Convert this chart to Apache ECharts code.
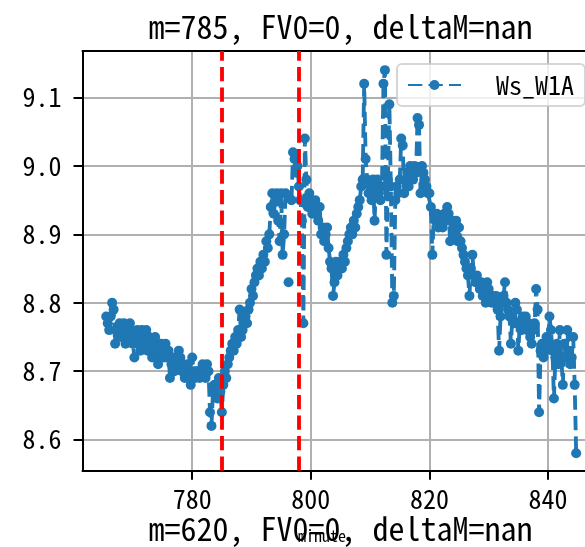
<!DOCTYPE html>
<html><head><meta charset="utf-8">
<script src="https://cdn.jsdelivr.net/npm/echarts@6/dist/echarts.min.js"></script>
<style>html,body{margin:0;padding:0;background:#fff}#c{width:585px;height:547px}</style>
</head><body><div id="c"></div>
<script>
// Titles / labels
const topTitle = 'm=785, FV0=0, deltaM=nan';
const bottomTitle = 'm=620, FV0=0, deltaM=nan';
const xLabelText = 'minute';
const seriesName = 'Ws_W1A';
const xTicks = [780, 800, 820, 840];
const yTicks = [8.6, 8.7, 8.8, 8.9, 9.0, 9.1];
const vLines = [785, 798];
const sampleStep = 0.25; // minutes between samples

// Ws_W1A readings, blocks with their start minute
const wsA_start = 765.5;
const wsA = [
  8.78, 8.77,
  8.76, 8.78, 8.80, 8.79,
  8.74, 8.76, 8.75, 8.77,
  8.75, 8.76, 8.77, 8.74,
  8.76, 8.75, 8.77, 8.76,
  8.74, 8.72, 8.75, 8.76,
  8.74, 8.73, 8.76, 8.75,
  8.74, 8.76, 8.73, 8.75,
  8.74, 8.72, 8.73, 8.75,
  8.73, 8.71, 8.72, 8.74,
  8.73, 8.72, 8.74, 8.72,
  8.73, 8.69, 8.71, 8.72,
  8.70, 8.72, 8.71, 8.73,
  8.72, 8.70, 8.71, 8.69,
  8.70, 8.71, 8.69, 8.68
];
const wsB_start = 780;
const wsB = [
  8.72, 8.70, 8.69, 8.70,
  8.70, 8.69, 8.70, 8.71,
  8.70, 8.69, 8.71, 8.70,
  8.64, 8.62, 8.67, 8.68,
  8.68, 8.66, 8.69, 8.67,
  8.64, 8.68, 8.70, 8.69,
  8.71, 8.72, 8.73, 8.74,
  8.73, 8.75, 8.74, 8.76,
  8.79, 8.75, 8.76, 8.77,
  8.78, 8.77, 8.79, 8.80,
  8.82, 8.81, 8.83, 8.84,
  8.85, 8.84, 8.86, 8.85,
  8.87, 8.86, 8.89, 8.88,
  8.90, 8.94, 8.96, 8.93,
  8.95, 8.96, 8.92, 8.89
];
const wsC_start = 795;
const wsC = [
  8.96, 8.87, 8.90, 8.96,
  null, 8.83, null, 8.95,
  9.02, 9.01, 8.99, 9.00,
  8.97, 8.95, 8.92, 8.77,
  9.04, 8.98, 8.94, 8.96,
  8.95, 8.93, 8.94, 8.95,
  8.93, 8.92, 8.94, 8.90,
  8.91, 8.89, 8.90, 8.91,
  8.88, 8.86, 8.85, 8.81,
  8.83, 8.86, 8.84, 8.85,
  8.86, 8.85, 8.87, 8.86,
  8.88, 8.89, 8.90, 8.91,
  8.90, 8.92, 8.91, 8.93,
  8.94, 8.95, 8.97, 8.98,
  9.12, 9.01, 8.98, 8.96
];
const wsD_start = 810;
const wsD = [
  8.97, 8.95, 8.98, 8.92,
  8.97, 8.98, 8.96, 8.95,
  8.97, 9.12, 9.14, 8.87,
  8.98, 9.09, 8.97, 8.80,
  8.81, 8.95, 8.97, 8.96,
  8.98, 9.04, 9.03, 8.96,
  8.98, 8.99, 8.97, 9.00,
  8.99, 8.98, 9.00, 8.99,
  9.07, 9.06, 8.96, 9.00,
  8.99, 8.98, 8.97, 8.96,
  8.96, 8.94, 8.87, 8.93,
  8.92, 8.93, 8.91, 8.92,
  8.92, 8.91, 8.93, 8.92,
  8.94, 8.93, 8.89, 8.92,
  8.91, 8.90, 8.92, 8.89
];
const wsE_start = 825;
const wsE = [
  8.91, 8.89, 8.88, 8.87,
  8.86, 8.85, 8.84, 8.81,
  8.85, 8.87, 8.84, 8.83,
  8.84, 8.83, 8.82, 8.83,
  8.81, 8.82, 8.80, 8.83,
  8.82, 8.81, 8.80, 8.81,
  8.80, 8.81, 8.79, 8.73,
  8.78, 8.80, 8.81, 8.83,
  8.80, 8.79, 8.78, 8.74,
  8.78, 8.77, 8.80, 8.79,
  8.73, 8.77, 8.76, 8.78,
  8.77, 8.78, 8.76, 8.77,
  8.75, 8.74, 8.76, 8.77,
  8.82, 8.79, 8.64, 8.73,
  8.74, 8.72, 8.73, 8.75,
  8.74, 8.78, 8.76, 8.73,
  8.66, 8.72, 8.74, 8.71,
  8.76, 8.72, 8.68, 8.74,
  8.72, 8.76, 8.73, 8.71,
  8.72, 8.75, 8.68, 8.58
];

const blocks = [[wsA_start, wsA], [wsB_start, wsB], [wsC_start, wsC], [wsD_start, wsD], [wsE_start, wsE]];
const seriesData = [];
blocks.forEach(([start, vals]) => {
  vals.forEach((v, i) => seriesData.push([+(start + i * sampleStep).toFixed(2), v]));
});

const FONT = "'Noto Sans Mono CJK SC', 'Noto Sans CJK SC', monospace";
const BLUE = '#1f77b4';
const dash = [14.3, 6.2];
// visible x range: the plot continues past the right edge of the window
const xMin = 761.5, xMax = 846.24;
const yMin = 8.5545, yMax = 9.168;

const chart = echarts.init(document.getElementById('c'), null, {renderer: 'canvas'});
chart.setOption({
  animation: false,
  backgroundColor: '#fff',
  grid: {left: 82.5, top: 51, right: 0, height: 419.7, show: false},
  xAxis: [{
    type: 'value', min: xMin, max: xMax,
    axisLine: {show: true, lineStyle: {color: '#000', width: 2}},
    axisTick: {show: true, inside: false, length: 9, lineStyle: {color: '#000', width: 2}, customValues: xTicks},
    axisLabel: {customValues: xTicks, margin: 15, color: '#000', fontSize: 26, fontFamily: FONT},
    splitLine: {show: true, lineStyle: {color: '#b0b0b0', width: 2}}
  }, {
    type: 'value', position: 'top', min: xMin, max: xMax,
    axisLine: {show: true, onZero: false, lineStyle: {color: '#000', width: 2}},
    axisTick: {show: false}, axisLabel: {show: false}, splitLine: {show: false}
  }],
  yAxis: {
    type: 'value', min: yMin, max: yMax,
    axisLine: {show: true, onZero: false, lineStyle: {color: '#000', width: 2}},
    axisTick: {show: true, inside: false, length: 9, lineStyle: {color: '#000', width: 2}, customValues: yTicks},
    axisLabel: {customValues: yTicks, margin: 21, color: '#000', fontSize: 26, fontFamily: FONT,
      formatter: v => Number(v).toFixed(1)},
    splitLine: {show: true, lineStyle: {color: '#b0b0b0', width: 2}}
  },
  legend: {
    data: [seriesName], left: 397, top: 64,
    padding: [7, 11, 7, 10],
    itemWidth: 53, itemHeight: 12.5,
    backgroundColor: 'rgba(255,255,255,0.8)', borderColor: 'rgba(204,204,204,0.8)', borderWidth: 2, borderRadius: 5,
    textStyle: {color: '#000', fontSize: 26, fontFamily: FONT, lineHeight: 28, padding: [0, 0, 0, 30]}
  },
  graphic: [
    {type: 'text', x: 322, y: 536, z: 10, style: {text: xLabelText, fill: '#000', font: "16px " + FONT, textAlign: 'center', textVerticalAlign: 'middle', align: 'center', verticalAlign: 'middle'}},
    {type: 'text', x: 340.5, y: 27, z: 10, style: {text: topTitle, fill: '#000', font: "32px " + FONT, textAlign: 'center', textVerticalAlign: 'middle', align: 'center', verticalAlign: 'middle'}},
    {type: 'text', x: 340.5, y: 529, z: 11, style: {text: bottomTitle, fill: '#000', font: "32px " + FONT, textAlign: 'center', textVerticalAlign: 'middle', align: 'center', verticalAlign: 'middle'}}
  ],
  series: [{
    name: seriesName, type: 'line', data: seriesData, xAxisIndex: 0,
    symbol: 'circle', symbolSize: 10, showSymbol: true, connectNulls: false,
    itemStyle: {color: BLUE},
    lineStyle: {color: BLUE, width: 3.85, type: dash},
    emphasis: {disabled: true},
    markLine: {
      silent: true, symbol: ['none', 'none'], label: {show: false},
      lineStyle: {color: '#ff0000', width: 3.85, type: dash},
      emphasis: {disabled: true},
      data: vLines.map(v => ({xAxis: v}))
    }
  }]
});
</script></body></html>
